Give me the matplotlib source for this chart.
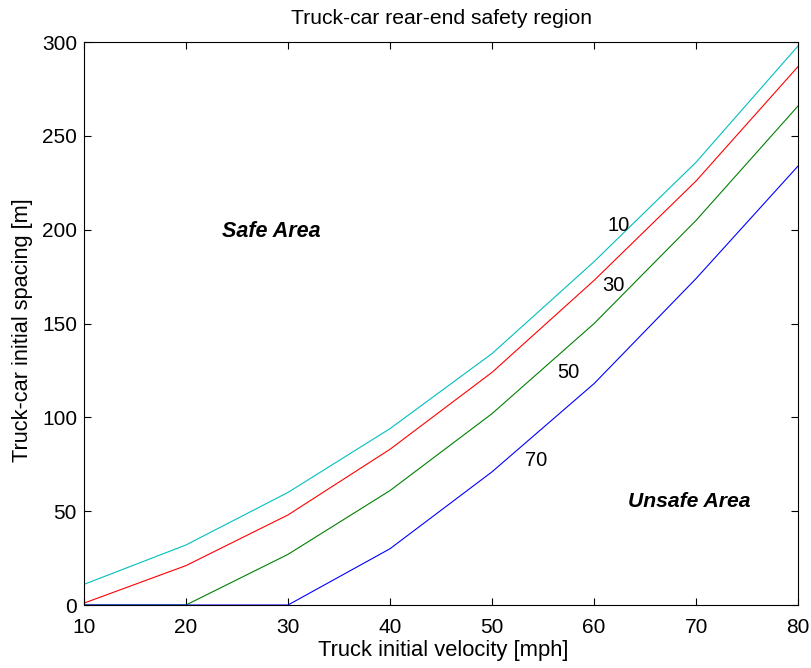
import matplotlib
matplotlib.use('Agg')
import matplotlib.pyplot as plt

plt.rcParams['font.family'] = ['Liberation Sans', 'DejaVu Sans']

# truck initial velocity [mph]
velocity = [10, 20, 30, 40, 50, 60, 70, 80]

# spacing curves for each car speed label
spacing_10 = [11, 32, 60, 94, 134, 183, 236, 298]
spacing_30 = [1, 21, 48, 83, 124, 173, 226, 287]
spacing_50 = [0, 0, 27, 61, 102, 150, 205, 266]
spacing_70 = [0, 0, 0, 30, 71, 118, 174, 234]

curve_labels = ['10', '30', '50', '70']
label_pos = [(62.4, 202), (61.9, 170), (57.5, 124), (54.3, 77)]

fig = plt.figure(figsize=(8.12, 6.68), dpi=100)
ax = fig.add_axes([0.1034, 0.0943, 0.8796, 0.8428])

ax.plot(velocity, spacing_10, color='c', lw=0.8)
ax.plot(velocity, spacing_30, color='r', lw=0.8)
ax.plot(velocity, spacing_50, color='g', lw=0.8)
ax.plot(velocity, spacing_70, color='b', lw=0.8)

for lab, (x, y) in zip(curve_labels, label_pos):
    ax.text(x, y, lab, fontsize=14.5, ha='center', va='center')

ax.text(28.4, 199, 'Safe Area', fontsize=15.5, fontweight='bold', fontstyle='italic',
        ha='center', va='center')
ax.text(69.3, 55, 'Unsafe Area', fontsize=15.2, fontweight='bold', fontstyle='italic',
        ha='center', va='center')

ax.set_xlim(10, 80)
ax.set_ylim(0, 300)
ax.set_xticks(range(10, 81, 10))
ax.set_yticks(range(0, 301, 50))
ax.tick_params(direction='in', labelsize=15, top=True, right=True, length=5)
ax.tick_params(axis='x', pad=9)
ax.tick_params(axis='y', pad=5)
ax.set_xlabel('Truck initial velocity [mph]', fontsize=15.8)
ax.xaxis.set_label_coords(0.503, -0.062)
ax.set_ylabel('Truck-car initial spacing [m]', fontsize=15.7)
ax.yaxis.set_label_coords(-0.072, 0.488)
ax.set_title('Truck-car rear-end safety region', fontsize=15.2, pad=13)

fig.savefig('out.png', dpi=100)
